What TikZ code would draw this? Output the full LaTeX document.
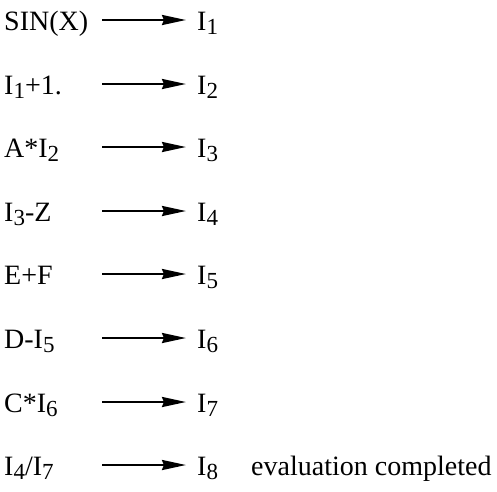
\documentclass[tikz,border=0pt]{standalone}
\usepackage{fontspec}
\setmainfont{Liberation Serif}
\usepackage{tikz}
\usetikzlibrary{arrows.meta, positioning}

\newcommand{\sbs}[1]{\raisebox{-0.32ex}{\fontsize{23}{23}\selectfont #1}}

\begin{document}
\begin{tikzpicture}[
    x=1pt, y=-1pt,
    expr/.style={anchor=base west, inner sep=0pt, font=\fontsize{28}{32}\selectfont},
    res/.style={anchor=base west, inner sep=0pt, font=\fontsize{28}{32}\selectfont},
    arr/.style={-{Stealth[length=24pt, width=10pt, inset=2pt]}, line width=2.4pt}
]
\useasboundingbox (0,0) rectangle (497,491);

% expressions
\node[expr] (e1) at (4,30)  {SIN(X)};
\node[expr] (e2) at (4,94)  {I\sbs{1}+1.};
\node[expr] (e3) at (4,157) {A*I\sbs{2}};
\node[expr] (e4) at (4,221) {I\sbs{3}-Z};
\node[expr] (e5) at (4,284) {E+F};
\node[expr] (e6) at (4,348) {D-I\sbs{5}};
\node[expr] (e7) at (4,412) {C*I\sbs{6}};
\node[expr] (e8) at (4,475) {I\sbs{4}/I\sbs{7}};

% arrow ends
\coordinate (s1) at (102,20);  \coordinate (t1) at (186,20);
\coordinate (s2) at (102,84);  \coordinate (t2) at (186,84);
\coordinate (s3) at (102,147); \coordinate (t3) at (186,147);
\coordinate (s4) at (102,211); \coordinate (t4) at (186,211);
\coordinate (s5) at (102,274); \coordinate (t5) at (186,274);
\coordinate (s6) at (102,338); \coordinate (t6) at (186,338);
\coordinate (s7) at (102,402); \coordinate (t7) at (186,402);
\coordinate (s8) at (102,465); \coordinate (t8) at (186,465);

% results
\node[res] (r1) at (197,30)  {I\sbs{1}};
\node[res] (r2) at (197,94)  {I\sbs{2}};
\node[res] (r3) at (197,157) {I\sbs{3}};
\node[res] (r4) at (197,221) {I\sbs{4}};
\node[res] (r5) at (197,284) {I\sbs{5}};
\node[res] (r6) at (197,348) {I\sbs{6}};
\node[res] (r7) at (197,412) {I\sbs{7}};
\node[res] (r8) at (197,475) {I\sbs{8}};
\node[res] (done) at (251,475) {evaluation completed};

\draw[arr] (s1) -- (t1);
\draw[arr] (s2) -- (t2);
\draw[arr] (s3) -- (t3);
\draw[arr] (s4) -- (t4);
\draw[arr] (s5) -- (t5);
\draw[arr] (s6) -- (t6);
\draw[arr] (s7) -- (t7);
\draw[arr] (s8) -- (t8);

\end{tikzpicture}
\end{document}
